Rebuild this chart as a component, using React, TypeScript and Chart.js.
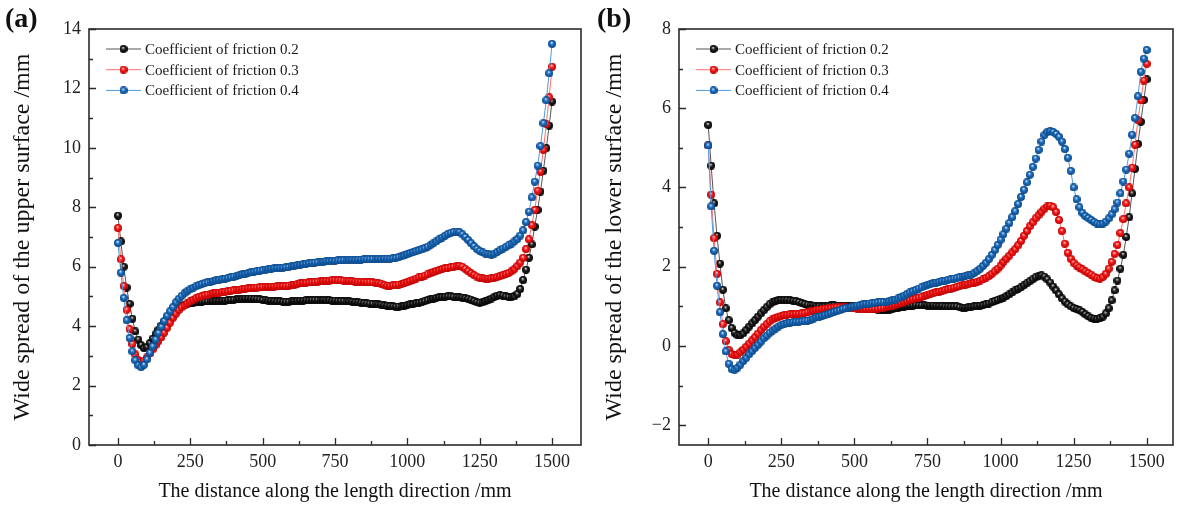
import { useEffect, useRef } from 'react';
import { Chart, registerables } from 'chart.js';

Chart.register(...registerables);

// distance along the length direction (mm)
const distance = [
  0, 10, 20, 30, 40, 50, 60, 70, 80, 90,
  100, 110, 120, 130, 140, 150, 160, 170, 180, 190,
  200, 210, 220, 230, 240, 250, 260, 270, 280, 290,
  300, 310, 320, 330, 340, 350, 360, 370, 380, 390,
  400, 410, 420, 430, 440, 450, 460, 470, 480, 490,
  500, 510, 520, 530, 540, 550, 560, 570, 580, 590,
  600, 610, 620, 630, 640, 650, 660, 670, 680, 690,
  700, 710, 720, 730, 740, 750, 760, 770, 780, 790,
  800, 810, 820, 830, 840, 850, 860, 870, 880, 890,
  900, 910, 920, 930, 940, 950, 960, 970, 980, 990,
  1000, 1010, 1020, 1030, 1040, 1050, 1060, 1070, 1080, 1090,
  1100, 1110, 1120, 1130, 1140, 1150, 1160, 1170, 1180, 1190,
  1200, 1210, 1220, 1230, 1240, 1250, 1260, 1270, 1280, 1290,
  1300, 1310, 1320, 1330, 1340, 1350, 1360, 1370, 1380, 1390,
  1400, 1410, 1420, 1430, 1440, 1450, 1460, 1470, 1480, 1490,
  1500,
];

// (a) upper surface
const upperMu02 = [
  7.72, 6.85, 6.0, 5.3, 4.75, 4.25, 3.82, 3.55, 3.36, 3.26,
  3.3, 3.43, 3.58, 3.73, 3.88, 4.02, 4.15, 4.27, 4.38, 4.48,
  4.56, 4.63, 4.68, 4.72, 4.75, 4.77, 4.78, 4.8, 4.81, 4.82,
  4.83, 4.83, 4.84, 4.84, 4.85, 4.85, 4.86, 4.86, 4.87, 4.88,
  4.89, 4.9, 4.91, 4.92, 4.93, 4.93, 4.93, 4.92, 4.91, 4.9,
  4.88, 4.87, 4.86, 4.85, 4.84, 4.83, 4.83, 4.82, 4.82, 4.82,
  4.83, 4.84, 4.85, 4.86, 4.86, 4.87, 4.87, 4.88, 4.88, 4.88,
  4.88, 4.88, 4.87, 4.87, 4.86, 4.86, 4.85, 4.85, 4.84, 4.83,
  4.83, 4.82, 4.81, 4.8, 4.79, 4.78, 4.77, 4.76, 4.75, 4.74,
  4.73, 4.72, 4.7, 4.69, 4.68, 4.67, 4.66, 4.66, 4.67, 4.69,
  4.71, 4.73, 4.75, 4.77, 4.79, 4.81, 4.84, 4.87, 4.9, 4.93,
  4.95, 4.97, 4.98, 4.99, 5.0, 5.0, 4.99, 4.98, 4.97, 4.96,
  4.94, 4.92, 4.89, 4.85, 4.81, 4.79, 4.8, 4.84, 4.88, 4.93,
  4.98, 5.03, 5.05, 5.03, 5.0, 4.98, 4.98, 5.0, 5.08, 5.25,
  5.55, 5.9, 6.3, 6.75, 7.35, 7.91, 8.53, 9.23, 9.99, 10.75,
  11.56,
];
const upperMu03 = [
  7.3, 6.25, 5.35, 4.55, 3.9, 3.4, 3.05, 2.86, 2.8, 2.84,
  2.95, 3.08, 3.22, 3.36, 3.49, 3.62, 3.78, 3.95, 4.12, 4.28,
  4.42, 4.54, 4.63, 4.7, 4.77, 4.83, 4.89, 4.94, 4.98, 5.01,
  5.04, 5.06, 5.08, 5.1, 5.12, 5.13, 5.15, 5.16, 5.17, 5.19,
  5.2, 5.22, 5.23, 5.25, 5.26, 5.27, 5.28, 5.29, 5.3, 5.31,
  5.31, 5.32, 5.32, 5.33, 5.33, 5.34, 5.34, 5.35, 5.35, 5.36,
  5.38, 5.4, 5.42, 5.44, 5.45, 5.46, 5.47, 5.48, 5.49, 5.5,
  5.51, 5.52, 5.53, 5.53, 5.54, 5.54, 5.54, 5.54, 5.53, 5.53,
  5.52, 5.51, 5.5, 5.5, 5.49, 5.49, 5.48, 5.48, 5.47, 5.46,
  5.45, 5.43, 5.39, 5.36, 5.36, 5.37, 5.38, 5.4, 5.42, 5.45,
  5.48, 5.52, 5.56, 5.6, 5.64, 5.67, 5.7, 5.74, 5.78, 5.82,
  5.86, 5.89, 5.92, 5.94, 5.96, 5.98, 6.0, 6.02, 6.03, 6.0,
  5.93, 5.85, 5.78, 5.72, 5.67, 5.63, 5.61, 5.6, 5.6, 5.61,
  5.63, 5.65, 5.68, 5.71, 5.75, 5.79, 5.85, 5.92, 6.02, 6.14,
  6.3, 6.59, 6.92, 7.4, 7.91, 8.56, 9.2, 9.93, 10.8, 11.7,
  12.73,
];
const upperMu04 = [
  6.8, 5.8, 4.95, 4.2, 3.6, 3.15, 2.85, 2.68, 2.62, 2.7,
  2.88, 3.1, 3.32, 3.55, 3.77, 3.98, 4.17, 4.35, 4.5, 4.64,
  4.8, 4.92, 5.02, 5.11, 5.18, 5.24, 5.29, 5.34, 5.38, 5.42,
  5.45, 5.47, 5.49, 5.52, 5.54, 5.56, 5.58, 5.6, 5.62, 5.64,
  5.67, 5.69, 5.72, 5.74, 5.76, 5.79, 5.81, 5.83, 5.85, 5.87,
  5.88, 5.9, 5.91, 5.93, 5.94, 5.95, 5.96, 5.97, 5.98, 5.99,
  6.01, 6.03, 6.05, 6.07, 6.09, 6.1, 6.12, 6.13, 6.14, 6.15,
  6.16, 6.17, 6.18, 6.19, 6.2, 6.2, 6.21, 6.21, 6.22, 6.22,
  6.23, 6.23, 6.23, 6.24, 6.24, 6.25, 6.25, 6.25, 6.26, 6.26,
  6.26, 6.26, 6.27, 6.27, 6.27, 6.28, 6.3, 6.32, 6.35, 6.38,
  6.42, 6.46, 6.49, 6.52, 6.55, 6.58, 6.62, 6.67, 6.73, 6.79,
  6.85, 6.92, 6.98, 7.04, 7.1, 7.14, 7.17, 7.18, 7.16, 7.09,
  7.0, 6.9, 6.79, 6.69, 6.6, 6.53, 6.48, 6.44, 6.42, 6.41,
  6.44, 6.49, 6.55, 6.61, 6.66, 6.72, 6.78, 6.85, 6.93, 7.05,
  7.22, 7.5, 7.85, 8.33, 8.86, 9.4, 10.06, 10.83, 11.6, 12.51,
  13.5,
];

// (b) lower surface
const lowerMu02 = [
  5.58, 4.55, 3.6, 2.78, 2.08, 1.42, 0.95, 0.65, 0.45, 0.33,
  0.27, 0.27, 0.32, 0.4, 0.49, 0.57, 0.65, 0.74, 0.82, 0.9,
  0.98, 1.05, 1.1, 1.13, 1.15, 1.16, 1.16, 1.16, 1.15, 1.14,
  1.13, 1.11, 1.08, 1.06, 1.04, 1.03, 1.02, 1.01, 1.01, 1.0,
  1.01, 1.02, 1.03, 1.03, 1.02, 1.01, 1.0, 1.0, 1.0, 1.01,
  1.01, 1.0, 0.99, 0.97, 0.96, 0.95, 0.94, 0.93, 0.92, 0.91,
  0.91, 0.91, 0.92, 0.93, 0.95, 0.96, 0.98, 0.99, 1.0, 1.01,
  1.02, 1.03, 1.03, 1.03, 1.03, 1.02, 1.02, 1.02, 1.01, 1.01,
  1.01, 1.0, 1.0, 1.0, 1.0, 1.0, 0.98, 0.97, 0.97, 0.98,
  0.99, 1.0, 1.01, 1.02, 1.03, 1.05, 1.07, 1.1, 1.13, 1.16,
  1.19, 1.22, 1.26, 1.3, 1.35, 1.4, 1.44, 1.48, 1.53, 1.58,
  1.63, 1.68, 1.73, 1.76, 1.78, 1.75, 1.68, 1.6, 1.5, 1.4,
  1.3, 1.2, 1.12, 1.05, 1.0, 0.96, 0.93, 0.9, 0.86, 0.8,
  0.75, 0.71, 0.69, 0.68, 0.7, 0.74, 0.82, 0.95, 1.15, 1.4,
  1.65, 1.95, 2.3, 2.75, 3.25, 3.85, 4.47, 5.1, 5.66, 6.21,
  6.73,
];
const lowerMu03 = [
  5.06, 3.82, 2.72, 1.82, 1.1, 0.55, 0.12, -0.1, -0.2, -0.23,
  -0.22, -0.16, -0.09, -0.02, 0.06, 0.14, 0.22, 0.31, 0.4, 0.48,
  0.55, 0.62, 0.67, 0.71, 0.74, 0.76, 0.78, 0.79, 0.8, 0.8,
  0.81, 0.81, 0.82, 0.83, 0.85, 0.87, 0.89, 0.91, 0.92, 0.93,
  0.94, 0.95, 0.96, 0.97, 0.98, 0.98, 0.98, 0.98, 0.97, 0.96,
  0.95, 0.94, 0.94, 0.93, 0.93, 0.93, 0.93, 0.93, 0.94, 0.95,
  0.96, 0.98, 1.0, 1.02, 1.04, 1.06, 1.08, 1.11, 1.14, 1.16,
  1.18, 1.2, 1.22, 1.24, 1.27, 1.29, 1.31, 1.33, 1.35, 1.37,
  1.39, 1.41, 1.43, 1.45, 1.47, 1.49, 1.51, 1.53, 1.55, 1.56,
  1.58, 1.6, 1.62, 1.65, 1.68, 1.72, 1.76, 1.82, 1.88, 1.95,
  2.03, 2.12, 2.2, 2.28, 2.36, 2.44, 2.54, 2.65, 2.78, 2.9,
  3.02, 3.12, 3.22, 3.3, 3.38, 3.46, 3.52, 3.54, 3.5, 3.38,
  3.18, 2.9, 2.58, 2.35, 2.2, 2.1, 2.03, 1.98, 1.93, 1.88,
  1.84, 1.8, 1.75, 1.71, 1.7, 1.74, 1.82, 1.95, 2.12, 2.32,
  2.55, 2.85, 3.2, 3.6, 4.0, 4.5, 5.08, 5.7, 6.2, 6.7,
  7.12,
];
const lowerMu04 = [
  5.06, 3.52, 2.4, 1.52, 0.85, 0.3, -0.14, -0.45, -0.58, -0.6,
  -0.55, -0.47, -0.38, -0.3, -0.21, -0.13, -0.05, 0.03, 0.11, 0.19,
  0.26, 0.33, 0.39, 0.44, 0.49, 0.53, 0.55, 0.57, 0.59, 0.6,
  0.61, 0.61, 0.62, 0.63, 0.64, 0.66, 0.69, 0.72, 0.74, 0.76,
  0.78, 0.8, 0.83, 0.86, 0.88, 0.9, 0.93, 0.95, 0.97, 0.99,
  1.0, 1.02, 1.03, 1.05, 1.06, 1.07, 1.08, 1.09, 1.1, 1.11,
  1.11, 1.12, 1.13, 1.15, 1.17, 1.2, 1.23, 1.27, 1.31, 1.35,
  1.38, 1.41, 1.45, 1.48, 1.51, 1.54, 1.56, 1.58, 1.6, 1.62,
  1.64, 1.65, 1.67, 1.68, 1.7, 1.71, 1.73, 1.75, 1.77, 1.78,
  1.8, 1.84, 1.89, 1.95, 2.02, 2.1, 2.19, 2.3, 2.42, 2.55,
  2.68, 2.82, 2.96, 3.1, 3.25, 3.4, 3.58, 3.76, 3.94, 4.13,
  4.32, 4.52, 4.73, 4.95, 5.16, 5.32, 5.4, 5.42, 5.4, 5.35,
  5.28, 5.16, 4.97, 4.75, 4.42, 4.0, 3.7, 3.5, 3.36, 3.28,
  3.23, 3.18, 3.13, 3.09, 3.07, 3.09, 3.14, 3.22, 3.32, 3.45,
  3.62, 3.85, 4.15, 4.45, 4.85, 5.33, 5.75, 6.3, 6.92, 7.25,
  7.47,
];

const seriesNames = ['Coefficient of friction 0.2', 'Coefficient of friction 0.3', 'Coefficient of friction 0.4'];
const lineColors = ['#555555', '#ff7070', '#4f9be0'];
const ballColors = [
  { light: '#e6e6e6', base: '#222222', dark: '#000000' },
  { light: '#ffe0e0', base: '#ff1a1a', dark: '#b80000' },
  { light: '#e4f0ff', base: '#1c6fc2', dark: '#0a4584' },
];

const xTicks = [0, 250, 500, 750, 1000, 1250, 1500];
const xMinorTicks = [125, 375, 625, 875, 1125, 1375];
const upperYTicks = [0, 2, 4, 6, 8, 10, 12, 14];
const upperYMinorTicks = [1, 3, 5, 7, 9, 11, 13];
const lowerYTicks = [-2, 0, 2, 4, 6, 8];
const lowerYMinorTicks = [-1, 1, 3, 5, 7];

const SERIF = "'Liberation Serif', 'Times New Roman', serif";

function makeBall(c: { light: string; base: string; dark: string }) {
  const d = 8;
  const r = d / 2;
  const cv = document.createElement('canvas');
  cv.width = d;
  cv.height = d;
  const g2 = cv.getContext('2d')!;
  const g = g2.createRadialGradient(r * 0.9, r * 0.65, 0.1, r, r, r);
  g.addColorStop(0, c.light);
  g.addColorStop(0.42, c.base);
  g.addColorStop(1, c.dark);
  g2.fillStyle = g;
  g2.beginPath();
  g2.arc(r, r, r, 0, Math.PI * 2);
  g2.fill();
  return cv;
}

interface PanelProps {
  label: string;
  yTitle: string;
  series: number[][];
  yMin: number;
  yMax: number;
  xMax: number;
  yTicks: number[];
  yMinorTicks: number[];
  yAxisWidth: number;
  left: number;
}

function Panel({ label, yTitle, series, yMin, yMax, xMax, yTicks, yMinorTicks, yAxisWidth, left }: PanelProps) {
  const canvasRef = useRef<HTMLCanvasElement>(null);
  const chartRef = useRef<Chart | null>(null);

  useEffect(() => {
    if (!canvasRef.current) return;
    if (chartRef.current) chartRef.current.destroy();

    const balls = ballColors.map(makeBall);

    // box and inward ticks
    const framePlugin = {
      id: 'frame',
      beforeDatasetsDraw(chart: any) {
        const { ctx, chartArea: a, scales } = chart;
        const x = scales.x;
        const y = scales.y;
        ctx.save();
        ctx.strokeStyle = '#2b2b2b';
        ctx.lineWidth = 1.3;
        ctx.beginPath();
        xTicks.forEach((v) => {
          const p = Math.round(x.getPixelForValue(v)) + 0.5;
          ctx.moveTo(p, a.bottom);
          ctx.lineTo(p, a.bottom - 7);
        });
        xMinorTicks.forEach((v) => {
          const p = Math.round(x.getPixelForValue(v)) + 0.5;
          ctx.moveTo(p, a.bottom);
          ctx.lineTo(p, a.bottom - 4);
        });
        yTicks.forEach((v) => {
          const p = Math.round(y.getPixelForValue(v)) + 0.5;
          ctx.moveTo(a.left, p);
          ctx.lineTo(a.left + 7, p);
        });
        yMinorTicks.forEach((v) => {
          const p = Math.round(y.getPixelForValue(v)) + 0.5;
          ctx.moveTo(a.left, p);
          ctx.lineTo(a.left + 4, p);
        });
        ctx.stroke();
        ctx.lineWidth = 1.6;
        ctx.strokeRect(a.left, a.top, a.right - a.left, a.bottom - a.top);
        ctx.restore();
      },
    };

    // legend: line with a ball in the middle
    const legendPlugin = {
      id: 'ballLegend',
      afterDraw(chart: any) {
        const { ctx, chartArea: a } = chart;
        ctx.save();
        ctx.font = `15px ${SERIF}`;
        ctx.fillStyle = '#1a1a1a';
        ctx.textBaseline = 'middle';
        seriesNames.forEach((name, i) => {
          const yy = a.top + 20 + i * 20.7;
          ctx.strokeStyle = lineColors[i];
          ctx.lineWidth = 1;
          ctx.beginPath();
          ctx.moveTo(a.left + 17, yy);
          ctx.lineTo(a.left + 52, yy);
          ctx.stroke();
          ctx.drawImage(balls[i], a.left + 34.5 - 4, yy - 4);
          ctx.fillText(name, a.left + 56, yy + 1);
        });
        ctx.restore();
      },
    };

    const datasets = series.map((values, i) => ({
      label: seriesNames[i],
      data: values.map((v, j) => ({ x: distance[j], y: v })),
      borderColor: lineColors[i],
      borderWidth: 1,
      pointStyle: balls[i],
      pointRadius: 4,
      pointHoverRadius: 4,
      order: 3 - i,
      tension: 0,
      fill: false,
    }));

    chartRef.current = new Chart(canvasRef.current, {
      type: 'line',
      data: { datasets },
      options: {
        responsive: false,
        animation: false,
        events: [],
        layout: { padding: { left: 4, right: 11, top: 29, bottom: 4 } },
        plugins: { legend: { display: false }, tooltip: { enabled: false } },
        scales: {
          x: {
            type: 'linear',
            min: -100,
            max: xMax,
            grid: { display: false, drawTicks: false },
            border: { display: false },
            afterBuildTicks: (s: any) => {
              s.ticks = xTicks.map((v) => ({ value: v }));
            },
            afterFit: (s: any) => {
              s.height = 59;
            },
            ticks: {
              padding: 6,
              color: '#222',
              font: { family: SERIF, size: 18 },
              maxRotation: 0,
              autoSkip: false,
              callback: (v: any) => String(v),
            },
            title: {
              display: true,
              text: 'The distance along the length direction /mm',
              color: '#111',
              font: { family: SERIF, size: 20 },
              padding: { top: 0, bottom: 0 },
            },
          },
          y: {
            type: 'linear',
            min: yMin,
            max: yMax,
            grid: { display: false, drawTicks: false },
            border: { display: false },
            afterBuildTicks: (s: any) => {
              s.ticks = yTicks.map((v) => ({ value: v }));
            },
            afterFit: (s: any) => {
              s.width = yAxisWidth;
            },
            ticks: {
              padding: 8,
              color: '#222',
              font: { family: SERIF, size: 18 },
              autoSkip: false,
              callback: (v: any) => (v < 0 ? '\u2212' + Math.abs(v) : String(v)),
            },
            title: {
              display: true,
              text: yTitle,
              color: '#111',
              font: { family: SERIF, size: 24 },
              padding: { top: 4, bottom: 0 },
            },
          },
        },
      },
      plugins: [framePlugin, legendPlugin],
    } as any);

    return () => {
      if (chartRef.current) {
        chartRef.current.destroy();
        chartRef.current = null;
      }
    };
  }, [series, yMin, yMax, xMax, yTicks, yMinorTicks, yAxisWidth, yTitle]);

  return (
    <div style={{ position: 'absolute', left, top: 0, width: 592, height: 508 }}>
      <canvas ref={canvasRef} width={592} height={508} style={{ display: 'block' }} />
      <div
        style={{
          position: 'absolute',
          left: 5,
          top: 2,
          font: `bold 28px ${SERIF}`,
          color: '#111',
          lineHeight: '32px',
        }}
      >
        {label}
      </div>
    </div>
  );
}

export default function App() {
  return (
    <div style={{ position: 'absolute', left: 0, top: 0, width: 1184, height: 508, background: '#fff', overflow: 'hidden' }}>
      <Panel
        label="(a)"
        yTitle="Wide spread of the upper surface /mm"
        series={[upperMu02, upperMu03, upperMu04]}
        yMin={0}
        yMax={14}
        xMax={1600}
        yTicks={upperYTicks}
        yMinorTicks={upperYMinorTicks}
        yAxisWidth={85}
        left={0}
      />
      <Panel
        label="(b)"
        yTitle="Wide spread of the lower surface /mm"
        series={[lowerMu02, lowerMu03, lowerMu04]}
        yMin={-2.5}
        yMax={8}
        xMax={1590}
        yTicks={lowerYTicks}
        yMinorTicks={lowerYMinorTicks}
        yAxisWidth={83}
        left={592}
      />
    </div>
  );
}
